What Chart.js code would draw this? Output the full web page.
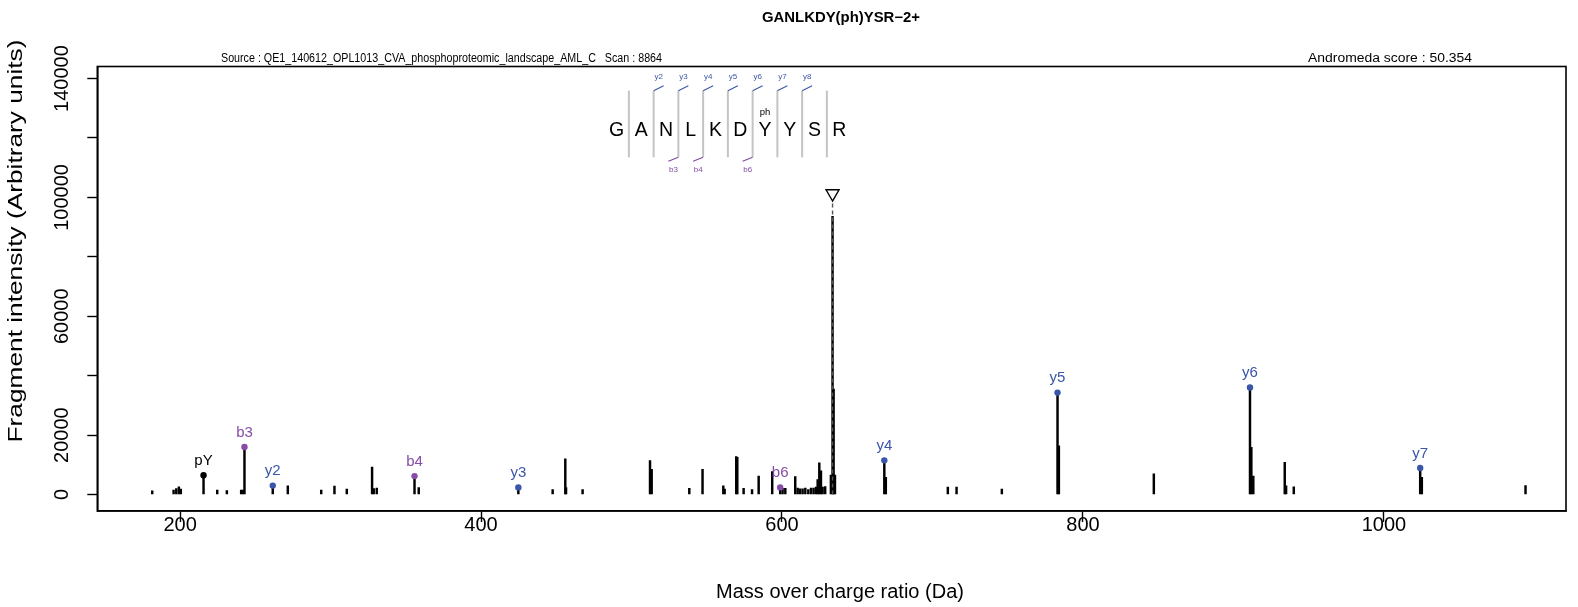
<!DOCTYPE html>
<html>
<head>
<meta charset="utf-8">
<script src="https://cdn.jsdelivr.net/npm/chart.js@4.4.1/dist/chart.umd.min.js"></script>
<style>
  html, body { margin: 0; padding: 0; background: #ffffff; }
  #wrap { width: 1578px; height: 607px; position: relative; }
</style>
</head>
<body>
<div id="wrap"><canvas id="c" width="1578" height="607"></canvas></div>
<script>
// ---------------- data ----------------
const peakMz = [181.5, 195.7, 197.5, 199.2, 200.5, 215.6, 224.7, 231.1, 240.6, 241.7, 242.8, 261.6, 271.6,
  293.8, 302.6, 310.8, 327.6, 328.7, 330.7, 355.8, 358.6, 424.8, 447.6, 456.0, 456.5, 467.5, 512.3, 513.4,
  538.4, 547.2, 561.0, 561.9, 569.6, 570.3, 574.5, 580.1, 584.5, 593.5, 598.8, 600.4, 602.2, 608.8, 610.4,
  612.0, 613.7, 615.5, 617.5, 619.3, 621.0, 622.6, 623.7, 624.8, 625.9, 627.0, 628.7, 632.5, 633.6, 634.3,
  635.2, 668.0, 669.0, 710.2, 716.0, 746.1, 783.1, 784.0, 847.1, 911.0, 911.9, 913.2, 934.1, 935.0, 940.1,
  1024.1, 1025.2, 1094.1];
const peakIntensity = [1200, 1500, 2000, 2600, 1800, 6500, 1500, 1300, 1500, 1500, 16000, 3000, 2900,
  1500, 2800, 1800, 9200, 2000, 2200, 6200, 2300, 2400, 1700, 12000, 2300, 1700, 11400, 8500,
  2100, 8500, 2900, 1800, 12800, 12500, 2100, 1700, 6200, 7700, 2400, 2100, 2100, 6000, 2200,
  1900, 1900, 2200, 1700, 2200, 2200, 2500, 5000, 10700, 8000, 2500, 2700, 6500, 93600, 35500,
  6500, 11500, 5800, 2500, 2500, 1800, 34300, 16400, 7000, 36000, 15900, 6200, 10800, 2900, 2600,
  8900, 5800, 3000];

const ionLabels = ['pY', 'b3', 'y2', 'b4', 'y3', 'b6', 'y4', 'y5', 'y6', 'y7'];
const ionMz = [215.6, 242.8, 261.6, 355.8, 424.8, 598.8, 668.0, 783.1, 911.0, 1024.1];
const ionIntensity = [6500, 16000, 3000, 6200, 2400, 2400, 11500, 34300, 36000, 8900];
const ionType = ['other', 'b', 'y', 'b', 'y', 'b', 'y', 'y', 'y', 'y'];

const precursorMz = 633.6;
const precursorMarker = 101300;
const precursorLineTop = 98700;

const xTickValues = [200, 400, 600, 800, 1000];
const yTickValues = [0, 20000, 40000, 60000, 80000, 100000, 120000, 140000];
const yTickLabels = ['0', '20000', '', '60000', '', '100000', '', '140000'];

const residues = ['G', 'A', 'N', 'L', 'K', 'D', 'Y', 'Y', 'S', 'R'];
const yFlags = ['y2', 'y3', 'y4', 'y5', 'y6', 'y7', 'y8'];      // on separators 1..7
const yFlagSep = [1, 2, 3, 4, 5, 6, 7];
const bFlags = ['b3', 'b4', 'b6'];
const bFlagSep = [2, 3, 5];
const modResidue = 6;

const titleText = 'GANLKDY(ph)YSR\u22122+';
const sourceText = 'Source : QE1_140612_OPL1013_CVA_phosphoproteomic_landscape_AML_C   Scan : 8864';
const scoreText = 'Andromeda score : 50.354';
const xTitle = 'Mass over charge ratio (Da)';
const yTitle = 'Fragment intensity (Arbitrary units)';

// ---------------- styles ----------------
const FAM = "'Liberation Sans', Arial, Helvetica, sans-serif";
const COL = { b: 'rgb(134,76,166)', y: 'rgb(58,86,168)', other: '#000000' };

const peakData = peakMz.map((m, i) => ({ x: m, y: peakIntensity[i] }));
const ionData = ionMz.map((m, i) => ({ x: m, y: ionIntensity[i] }));
const ionColors = ionType.map(t => COL[t]);

// draw text with a given font size, stretched/compressed along its direction to a target length
function fittedText(ctx, text, font, targetW, x, y, rot) {
  ctx.save();
  ctx.font = font;
  const w = ctx.measureText(text).width;
  ctx.translate(x, y);
  if (rot) ctx.rotate(rot);
  ctx.scale(targetW / w, 1);
  ctx.fillText(text, 0, 0);
  ctx.restore();
}

const decor = {
  id: 'decor',
  afterDraw(chart) {
    const { ctx, chartArea: ca, scales: { x, y } } = chart;
    ctx.save();
    // box
    ctx.strokeStyle = '#000'; ctx.lineWidth = 1.6;
    ctx.strokeRect(ca.left, ca.top, ca.right - ca.left, ca.bottom - ca.top);

    ctx.fillStyle = '#000';
    ctx.textAlign = 'center'; ctx.textBaseline = 'middle';
    // x tick labels
    ctx.font = '20px ' + FAM;
    xTickValues.forEach(v => ctx.fillText(String(v), x.getPixelForValue(v), ca.bottom + 14));
    // y tick labels (rotated)
    yTickValues.forEach((v, i) => {
      if (!yTickLabels[i]) return;
      ctx.save();
      ctx.translate(ca.left - 35, y.getPixelForValue(v));
      ctx.rotate(-Math.PI / 2);
      ctx.fillText(yTickLabels[i], 0, 0);
      ctx.restore();
    });
    // axis titles
    ctx.fillText(xTitle, 840, 592);
    fittedText(ctx, yTitle, '21px ' + FAM, 403, 16, 241, -Math.PI / 2);

    // main title and header lines
    fittedText(ctx, titleText, 'bold 14px ' + FAM, 158, 841, 18);
    ctx.textAlign = 'left';
    fittedText(ctx, sourceText, '12.5px ' + FAM, 441, 221, 58.5);
    fittedText(ctx, scoreText, '12.5px ' + FAM, 164, 1308, 58.5);

    // ion labels above dots
    ctx.textAlign = 'center';
    ctx.font = '15px ' + FAM;
    ionLabels.forEach((lab, i) => {
      ctx.fillStyle = ionColors[i];
      ctx.fillText(lab, x.getPixelForValue(ionMz[i]), y.getPixelForValue(ionIntensity[i]) - 14.5);
    });

    // sequence diagram
    const x0 = 616.5, step = 24.75, sepTop = 90.7, sepBot = 157.3;
    ctx.strokeStyle = '#c4c4c4'; ctx.lineWidth = 2;
    for (let j = 0; j < residues.length - 1; j++) {
      const sx = x0 + step / 2 + j * step;
      ctx.beginPath(); ctx.moveTo(sx, sepTop); ctx.lineTo(sx, sepBot); ctx.stroke();
    }
    ctx.fillStyle = '#000';
    ctx.font = '19.5px ' + FAM;
    residues.forEach((r, i) => ctx.fillText(r, x0 + i * step, 130.5));
    ctx.font = '9.5px ' + FAM;
    ctx.fillText('ph', x0 + modResidue * step, 112.5);
    // y flags
    ctx.strokeStyle = COL.y; ctx.fillStyle = COL.y; ctx.lineWidth = 1.2;
    ctx.font = '8px ' + FAM;
    yFlags.forEach((lab, k) => {
      const sx = x0 + step / 2 + yFlagSep[k] * step;
      ctx.beginPath(); ctx.moveTo(sx, sepTop); ctx.lineTo(sx + 10, sepTop - 5); ctx.stroke();
      ctx.fillText(lab, sx + 5, 76.5);
    });
    // b flags
    ctx.strokeStyle = COL.b; ctx.fillStyle = COL.b;
    bFlags.forEach((lab, k) => {
      const sx = x0 + step / 2 + bFlagSep[k] * step;
      ctx.beginPath(); ctx.moveTo(sx, sepBot); ctx.lineTo(sx - 10, sepBot + 4); ctx.stroke();
      ctx.fillText(lab, sx - 5, 170);
    });
    ctx.restore();
  }
};

new Chart(document.getElementById('c'), {
  type: 'bar',
  data: {
    datasets: [
      {
        type: 'line',
        label: 'precursor',
        data: [{ x: precursorMz, y: 0 }, { x: precursorMz, y: precursorLineTop }],
        borderColor: '#555555', borderWidth: 1.4, borderDash: [4, 3],
        pointRadius: 0, fill: false, order: 1
      },
      {
        type: 'line',
        label: 'precursor marker',
        data: [{ x: precursorMz, y: precursorMarker }],
        showLine: false,
        pointStyle: 'triangle', rotation: 180, pointRadius: 7.5,
        pointBorderColor: '#000', pointBorderWidth: 1.4, pointBackgroundColor: 'rgba(0,0,0,0)',
        order: 0
      },
      {
        type: 'line',
        label: 'ions',
        data: ionData,
        showLine: false,
        pointRadius: 3.2, pointBorderWidth: 0,
        pointBackgroundColor: ionColors, pointBorderColor: ionColors,
        order: 0
      },
      {
        type: 'bar',
        label: 'peaks',
        data: peakData,
        backgroundColor: '#000', borderWidth: 0,
        barThickness: 1.8,
        order: 2
      }
    ]
  },
  options: {
    responsive: false,
    animation: false,
    devicePixelRatio: 1,
    layout: { padding: { left: 0, right: 12, top: 66.5, bottom: 0 } },
    plugins: { legend: { display: false }, tooltip: { enabled: false }, title: { display: false } },
    scales: {
      x: {
        type: 'linear', min: 145, max: 1121, offset: false,
        ticks: { display: false },
        afterBuildTicks: s => { s.ticks = xTickValues.map(v => ({ value: v })); },
        afterFit: s => { s.height = 96; },
        grid: { display: true, offset: false, drawOnChartArea: false, drawTicks: true, tickLength: 11, tickColor: '#000', tickWidth: 1.4 },
        border: { display: true, color: '#000', width: 1.6 }
      },
      y: {
        type: 'linear', min: -5550, max: 144050,
        ticks: { display: false },
        afterBuildTicks: s => { s.ticks = yTickValues.map(v => ({ value: v })); },
        afterFit: s => { s.width = 97.3; },
        grid: { display: true, drawOnChartArea: false, drawTicks: true, tickLength: 10, tickColor: '#000', tickWidth: 1.4 },
        border: { display: true, color: '#000', width: 1.6 }
      }
    }
  },
  plugins: [decor]
});
</script>
</body>
</html>
